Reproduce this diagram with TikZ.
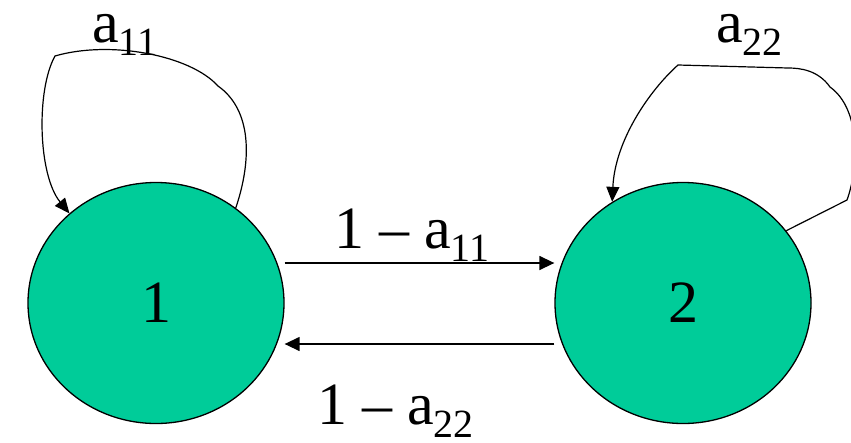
\documentclass[tikz,border=0pt]{standalone}
\usepackage{fontspec}
\setmainfont{Liberation Serif}
\usetikzlibrary{arrows.meta,positioning,calc,shapes.geometric}
\definecolor{stategreen}{RGB}{0,204,153}
\newcommand{\lowsub}[1]{\raisebox{-13pt}{\fontsize{40}{40}\selectfont #1}}

\begin{document}
\begin{tikzpicture}[x=1pt,y=-1pt,
  state/.style={draw,fill=stategreen,ellipse,line width=1.3pt,minimum width=256pt,minimum height=241pt,inner sep=0pt,font=\fontsize{60}{72}\selectfont},
  lbl/.style={anchor=base west,inner sep=0pt,font=\fontsize{60}{72}\selectfont},
  arr/.style={-{Triangle[length=15pt,width=14pt]},line width=1.4pt},
  selfloop/.style={-{Triangle[length=15pt,width=13pt]},line width=1.2pt}]
\useasboundingbox (0,0) rectangle (851,442);
\node[state] (n1) at (156,303) {1};
\node[state] (n2) at (683,303) {2};
% self loops
\draw[selfloop] (n1.50) .. controls (252,160) and (252,110) .. (218,86) .. controls (190,55) and (110,40) .. (55,56) .. controls (36,90) and (38,175) .. (n1.134);
\draw[selfloop] (n2.35) -- (847,200) .. controls (858,170) and (862,110) .. (830,87) .. controls (818,70) and (800,68) .. (788,68) -- (678,65) .. controls (650,90) and (615,140) .. (n2.125);
% transitions
\draw[arr] ([yshift=40pt]n1.east) -- ([yshift=40pt]n2.west);
\draw[arr] ([yshift=-41pt]n2.west) -- ([yshift=-41pt]n1.east);
\node[lbl] (l11) at (92,42) {a\lowsub{11}};
\node[lbl] (l22) at (716,42) {a\lowsub{22}};
\node[lbl] (l12) at (334,248) {1 – a\lowsub{11}};
\node[lbl] (l21) at (317,424) {1 – a\lowsub{22}};
\end{tikzpicture}
\end{document}
